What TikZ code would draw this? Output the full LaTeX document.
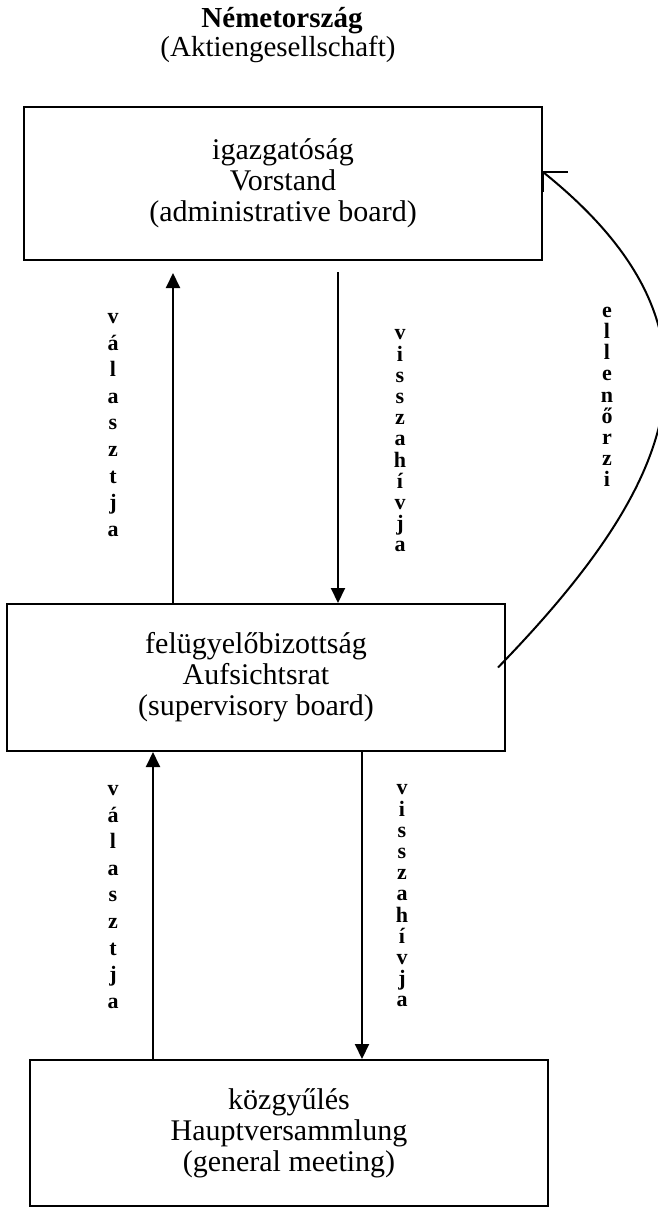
\documentclass[tikz,border=0pt]{standalone}
\usepackage{fontspec}
\setmainfont{Liberation Serif}
\usetikzlibrary{arrows.meta,calc}
\begin{document}
\begin{tikzpicture}[x=1pt,y=-1pt,
  box/.style={draw,line width=2pt,inner sep=0pt,align=center,font=\fontsize{30}{31}\selectfont},
  vletA/.style={inner sep=0pt,align=center,font=\fontsize{22}{26.6}\selectfont\bfseries},
  vletB/.style={inner sep=0pt,align=center,font=\fontsize{22}{21.2}\selectfont\bfseries},
  conn/.style={line width=2pt,-{Triangle[length=15pt,width=14pt]}},
  curv/.style={line width=2pt},
  titlefont/.style={inner sep=0pt,font=\fontsize{29}{29}\selectfont}]
\useasboundingbox (0,0) rectangle (657,1207);
% title
\node[titlefont,anchor=base] (title) at (282,28) {\bfseries Németország};
\node[titlefont,anchor=base] (subtitle) at (278,57) {(Aktiengesellschaft)};
% boxes
\node[box,minimum width=518pt,minimum height=153pt] (vor) at (283,183.5)
  {igazgatóság\\Vorstand\\(administrative board)};
\node[box,minimum width=498pt,minimum height=147pt] (sup) at (256,677.5)
  {felügyelőbizottság\\Aufsichtsrat\\(supervisory board)};
\node[box,minimum width=518pt,minimum height=146pt] (gen) at (289,1133)
  {közgyűlés\\Hauptversammlung\\(general meeting)};
% vertical labels
\node[vletA] (l1) at (113,425) {v\\á\\l\\a\\s\\z\\t\\j\\a};
\node[vletB] (l2) at (400,441) {v\\i\\s\\s\\z\\a\\h\\í\\v\\j\\a};
\node[vletA] (l3) at (113,897) {v\\á\\l\\a\\s\\z\\t\\j\\a};
\node[vletB] (l4) at (402,896) {v\\i\\s\\s\\z\\a\\h\\í\\v\\j\\a};
\node[vletB] (l5) at (607,397) {e\\l\\l\\e\\n\\ő\\r\\z\\i};
% connectors
\coordinate (upTip1) at (173,273);
\coordinate (downTail1) at (338,272);
\coordinate (xu2) at (153,0);
\coordinate (xd2) at (362,0);
\draw[conn] (sup.north -| upTip1) -- (upTip1);
\draw[conn] (downTail1) -- (sup.north -| downTail1);
\draw[conn] (gen.north -| xu2) -- (sup.south -| xu2);
\draw[conn] (sup.south -| xd2) -- (gen.north -| xd2);
% curved control arrow
\coordinate (cStart) at ([xshift=-8pt,yshift=10pt]sup.east);
\coordinate (cEnd) at ([yshift=11.5pt]vor.east);
\draw[curv] (cStart) .. controls (680,480) and (740,330) .. (cEnd);
\draw[curv] (cEnd) -- ++(25,0);
\draw[curv] (cEnd) -- ++(0,20);
\end{tikzpicture}
\end{document}
